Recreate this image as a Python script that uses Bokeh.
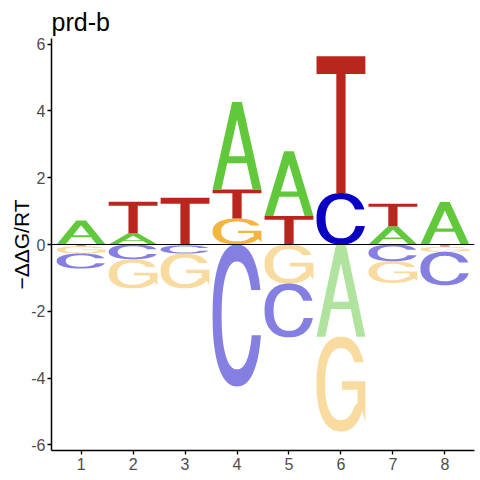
import numpy as np
from bokeh.plotting import figure
from bokeh.models import Range1d, Span, FixedTicker, ColumnDataSource
from bokeh.embed import file_html
from bokeh.resources import INLINE

# ---------------- data ----------------
positions = [1, 2, 3, 4, 5, 6, 7, 8]
x_tick_labels = ["1", "2", "3", "4", "5", "6", "7", "8"]
A_vals = [0.72, 0.34, -0.03, 2.62, 1.94, -2.76, 0.55, 1.27]
C_vals = [-0.45, -0.44, -0.24, -4.25, -1.61, 1.54, -0.50, -1.00]
G_vals = [-0.22, -0.87, -1.04, 0.78, -1.17, -2.84, -0.65, -0.15]
T_vals = [-0.05, 0.94, 1.40, 0.87, 0.85, 4.10, 0.67, -0.07]
y_ticks = [-6, -4, -2, 0, 2, 4, 6]
y_tick_labels = ["-6", "-4", "-2", "0", "2", "4", "6"]
title_text = "prd-b"
y_label = "\u2212\u0394\u0394G/RT"
letter_colors = {"A": "#61C83B", "C": "#0A00C4", "G": "#F4B540", "T": "#B9261E"}

# ---------------- letter outlines (unit box) ----------------
NS = 2.3  # superellipse exponent


def se_point(t, cx, cy, rx, ry):
    c, s = np.cos(t), np.sin(t)
    return (cx + rx * np.sign(c) * np.abs(c) ** (2 / NS),
            cy + ry * np.sign(s) * np.abs(s) ** (2 / NS))


def se_angle(yrel):
    return np.sign(yrel) * np.arcsin(np.abs(yrel) ** (NS / 2))


def arc(t0, t1, cx, cy, rx, ry, n=60):
    ts = np.linspace(t0, t1, n)
    return [se_point(t, cx, cy, rx, ry) for t in ts]


def shape_T():
    return [[[(0, 0.87), (0, 1), (1, 1), (1, 0.87), (0.595, 0.87), (0.595, 0),
              (0.405, 0), (0.405, 0.87)]]]


def shape_A():
    lw, sl = 0.18, 0.4
    yb0, yb1 = 0.30, 0.38
    outer = [(0, 0), (lw, 0), (lw + sl * yb0, yb0), (1 - lw - sl * yb0, yb0),
             (1 - lw, 0), (1, 0), (1 - sl, 1), (sl, 1)]
    ya = (1 - 2 * lw) / (2 * sl)
    hole = [(lw + sl * yb1, yb1), (1 - lw - sl * yb1, yb1), (0.5, ya)]
    return [[outer, hole]]


def shape_C():
    ro, rix, riy = 0.5, 0.5 - 0.185, 0.5 - 0.12
    yt, yb = 0.68, 0.36
    to_t = se_angle((yt - 0.5) / ro)
    to_b = se_angle((yb - 0.5) / ro)
    ti_t = se_angle((yt - 0.5) / riy)
    ti_b = se_angle((yb - 0.5) / riy)
    pts = arc(to_t, 2 * np.pi + to_b, 0.5, 0.5, ro, ro, 120)
    pts += arc(2 * np.pi + ti_b, ti_t, 0.5, 0.5, rix, riy, 120)
    return [[pts]]


def shape_G():
    ro, rix, riy = 0.5, 0.5 - 0.175, 0.5 - 0.12
    yt = 0.73
    to_t = se_angle((yt - 0.5) / ro)
    ti_t = se_angle((yt - 0.5) / riy)
    pts = arc(to_t, 2 * np.pi - 0.55, 0.5, 0.5, ro, ro, 120)
    pts += [(1.0, 0.10), (1.0, 0.53), (0.52, 0.53), (0.52, 0.44), (0.84, 0.44), (0.84, 0.30)]
    pts += arc(2 * np.pi - 0.62, ti_t, 0.5, 0.5, rix, riy, 120)
    return [[pts]]


shapes = {"A": shape_A(), "C": shape_C(), "G": shape_G(), "T": shape_T()}

# ---------------- build stacks ----------------
letters = ["A", "C", "G", "T"]
vals = {"A": A_vals, "C": C_vals, "G": G_vals, "T": T_vals}
WIDTH = 0.94

xs_all, ys_all, colors, alphas = [], [], [], []
for i, pos in enumerate(positions):
    col = [(L, vals[L][i]) for L in letters]
    pos_part = sorted([c for c in col if c[1] > 0], key=lambda c: c[1])
    neg_part = sorted([c for c in col if c[1] < 0], key=lambda c: -c[1])
    stacks = []
    base = 0.0
    for L, v in pos_part:
        stacks.append((L, base, base + v, 1.0))
        base += v
    base = 0.0
    for L, v in neg_part:
        stacks.append((L, base + v, base, 0.5))
        base += v
    for L, y0, y1, a in stacks:
        x0 = pos - WIDTH / 2
        mp_x, mp_y = [], []
        for poly in shapes[L]:
            px, py = [], []
            for ring in poly:
                px.append([x0 + WIDTH * u for u, _ in ring])
                py.append([y0 + (y1 - y0) * w for _, w in ring])
            mp_x.append(px)
            mp_y.append(py)
        xs_all.append(mp_x)
        ys_all.append(mp_y)
        colors.append(letter_colors[L])
        alphas.append(a)

src = ColumnDataSource(dict(xs=xs_all, ys=ys_all, color=colors, alpha=alphas))

# ---------------- figure ----------------
p = figure(output_backend="svg", toolbar_location=None,
           frame_width=423, frame_height=412,
           x_range=Range1d(0.43, 8.57), y_range=Range1d(-6.17, 6.17),
           min_border_left=51, min_border_top=38, min_border_right=5, min_border_bottom=22,
           background_fill_color="white", border_fill_color="white")
p.outline_line_color = None
p.grid.visible = False

p.multi_polygons(xs="xs", ys="ys", fill_color="color", fill_alpha="alpha",
                 line_color=None, source=src)

p.add_layout(Span(location=0, dimension="width", line_color="black", line_width=1.2))

p.title.text = title_text
p.title.text_font = "Liberation Sans"
p.title.text_font_size = "25px"
p.title.text_font_style = "normal"
p.title.text_color = "black"
p.title.align = "left"
p.title.standoff = 5

for ax in (p.xaxis, p.yaxis):
    ax.axis_line_color = "black"
    ax.axis_line_width = 1.5
    ax.major_tick_line_color = "black"
    ax.major_tick_line_width = 1.3
    ax.major_tick_out = 4
    ax.major_tick_in = 0
    ax.minor_tick_line_color = None
    ax.major_label_text_font = "Liberation Sans"
    ax.major_label_text_font_size = "16px"
    ax.major_label_text_color = "#4D4D4D"
    ax.major_label_standoff = 2

p.xaxis.major_label_standoff = 3
p.xaxis.ticker = FixedTicker(ticks=positions)
p.xaxis.major_label_overrides = {pos: lab for pos, lab in zip(positions, x_tick_labels)}
p.yaxis.ticker = FixedTicker(ticks=y_ticks)
p.yaxis.major_label_overrides = {t: lab for t, lab in zip(y_ticks, y_tick_labels)}
p.yaxis.axis_label = y_label
p.yaxis.axis_label_text_font = "Liberation Sans"
p.yaxis.axis_label_text_font_size = "21px"
p.yaxis.axis_label_text_font_style = "normal"
p.yaxis.axis_label_text_color = "black"
p.yaxis.axis_label_standoff = -5

open("out.html", "w").write(file_html(p, INLINE))
